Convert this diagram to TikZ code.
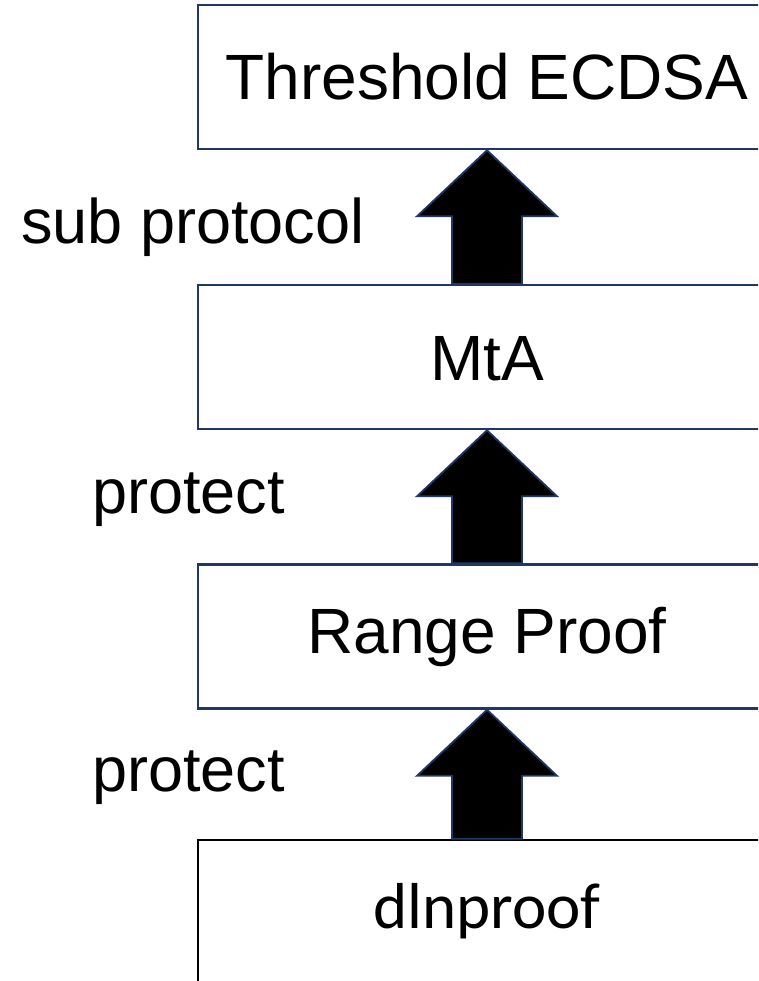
\documentclass[tikz,border=0pt]{standalone}
\usepackage{fontspec}
\setmainfont{Liberation Sans}
\newfontfamily\calibrifont{Carlito}
\usetikzlibrary{calc}
\definecolor{navy}{HTML}{1F3864}

% thick block arrow from the top of one layer up to the bottom of the next
\newcommand\layerarrow[2]{%
  \draw[uparrow] (#2.south) -- ++(70,-66) -- ++(-35,0)
    -- ($(#1.north)+(35,0)$) -- ($(#1.north)+(-35,0)$)
    -- ($(#2.south)+(-35,-66)$) -- ++(-35,0) -- cycle;}

\begin{document}
\begin{tikzpicture}[x=1pt,y=1pt,
  layer/.style={draw=navy, line width=2.6pt, fill=white,
    minimum width=578pt, minimum height=144pt, inner sep=0pt,
    text height=46pt, text depth=0pt, font=\fontsize{64}{70}\selectfont},
  lowtext/.style={text depth=13pt},
  uparrow/.style={fill=black, draw=navy, line width=1.8pt, line join=miter},
  tag/.style={inner sep=0pt, anchor=base west, font=\fontsize{63}{70}\selectfont}]
\useasboundingbox (0,0) rectangle (758,-981);
\clip (0,0) rectangle (758,-981);

% protocol layers, top to bottom
\node[layer] (ecdsa) at (487,-77) {Threshold ECDSA};
\node[layer] (mta) at (487,-357) {MtA};
\node[layer, lowtext] (range) at (487,-636.5) {Range Proof};
\node[layer, lowtext, draw=black, font=\calibrifont\fontsize{65}{70}\selectfont]
  (dln) at (487,-912) {dlnproof};

% arrows between the layers
\layerarrow{mta}{ecdsa}
\layerarrow{range}{mta}
\layerarrow{dln}{range}

% relation labels
\node[tag] (sub) at (21,-244) {sub protocol};
\node[tag] (prot1) at (92,-513) {protect};
\node[tag] (prot2) at (92,-791) {protect};
\end{tikzpicture}
\end{document}
